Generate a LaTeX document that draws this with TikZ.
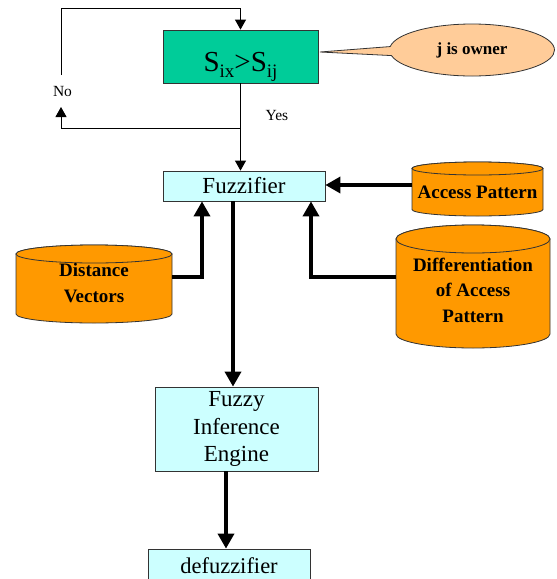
\documentclass[tikz,border=0pt]{standalone}
\usepackage{fontspec}
\setmainfont{Liberation Serif}
\usetikzlibrary{arrows.meta,shapes.callouts,calc}
\definecolor{boxgreen}{RGB}{0,204,153}
\definecolor{boxcyan}{RGB}{204,255,255}
\definecolor{cylorange}{RGB}{255,153,0}
\definecolor{peach}{RGB}{255,204,153}
\tikzset{
  box/.style={draw=black!80, line width=0.8pt, inner sep=0pt, align=center},
  cylstyle/.style={fill=cylorange, draw=black!80, line width=0.8pt},
  cyltext/.style={font=\bfseries\fontsize{19}{25.5}\selectfont, align=center, inner sep=0pt},
  tharrow/.style={line width=1pt, -{Triangle[length=10pt,width=11pt]}},
  thkarrow/.style={line width=3.5pt, -{Triangle[length=15pt,width=16pt]}},
  lbl/.style={font=\fontsize{15.5}{17}\selectfont, inner sep=0pt}
}
\newcommand\drawcyl[5]{% x1 x2 ytop ybot ry
  \pgfmathsetmacro\cylrx{(#2-#1)/2}%
  \pgfmathsetmacro\cylcx{(#1+#2)/2}%
  \filldraw[cylstyle] (#1,#3+#5) -- (#1,#4-#5) arc[start angle=180,end angle=0,x radius=\cylrx,y radius=#5] -- (#2,#3+#5) arc[start angle=0,end angle=-180,x radius=\cylrx,y radius=#5] -- cycle;
  \filldraw[cylstyle] (\cylcx,#3+#5) ellipse[x radius=\cylrx,y radius=#5];
}
\newcommand\subsc[1]{\raisebox{-6pt}{\fontsize{19}{20}\selectfont #1}}
\begin{document}
\begin{tikzpicture}[x=1pt,y=-1pt]
\useasboundingbox (0,0) rectangle (557,579);
\fill[white] (0,0) rectangle (557,579);

% main boxes
\node[box, fill=boxgreen, minimum width=155pt, minimum height=53pt,
      font=\fontsize{29}{30}\selectfont, text height=34pt, text depth=4pt] (s) at (240.5,56.5)
      {S\subsc{ix}>S\subsc{ij}};
\node[box, fill=boxcyan, minimum width=162pt, minimum height=30pt,
      font=\fontsize{23}{27}\selectfont] (fuzz) at (244,186) {Fuzzifier};
\node[box, fill=boxcyan, minimum width=163pt, minimum height=84pt,
      font=\fontsize{23}{27.5}\selectfont] (fie) at (236.5,429) {Fuzzy\\Inference\\Engine};
\node[box, fill=boxcyan, minimum width=162pt, minimum height=34pt,
      font=\fontsize{22.5}{27}\selectfont] (defuzz) at (229,566) {defuzzifier};

% callout
\node[ellipse callout, draw=black!80, fill=peach, line width=0.8pt,
      minimum width=165pt, minimum height=52pt, inner sep=0pt,
      callout absolute pointer={(320,52)}, callout pointer arc=20,
      font=\bfseries\fontsize{17}{20}\selectfont] (own) at (472,50) {j is owner};

% cylinders
\drawcyl{412}{543}{162}{216}{6.5}
\node[cyltext] (ap) at (477.5,192.5) {Access Pattern};
\drawcyl{396}{550}{225}{348}{14}
\node[cyltext] (diff) at (473,290) {Differentiation\\of Access\\Pattern};
\drawcyl{16}{172}{245}{323}{9}
\node[cyltext] (dist) at (94,283) {Distance\\Vectors};
\coordinate (ap-in) at (412,185);
\coordinate (diff-in) at (396,277);
\coordinate (dist-in) at (172,277);

% labels
\node[lbl] (no) at (62.5,91) {No};
\node[lbl] (yes) at (277,115) {Yes};
\coordinate (nt) at (61,75);
\coordinate (nb) at (61,107);
\coordinate (tl) at (61,8);
\coordinate (j) at (240.5,128);

% thin loop connectors
\draw[tharrow] (nt) -- (tl) -| (s.north);
\draw[tharrow] (s.south) -- (s.south |- fuzz.north);
\draw[tharrow] (j) -| (nb);

% thick connectors
\draw[thkarrow] (ap-in) -- (ap-in -| fuzz.east);
\draw[thkarrow] (diff-in) -| ([xshift=67pt]fuzz.south);
\draw[thkarrow] (dist-in) -| ([xshift=-42pt]fuzz.south);
\draw[thkarrow] ([xshift=-11pt]fuzz.south) -- ([xshift=-11pt]fuzz.south |- fie.north);
\draw[thkarrow] ([xshift=-10.5pt]fie.south) -- ([xshift=-10.5pt]fie.south |- defuzz.north);
\end{tikzpicture}
\end{document}
